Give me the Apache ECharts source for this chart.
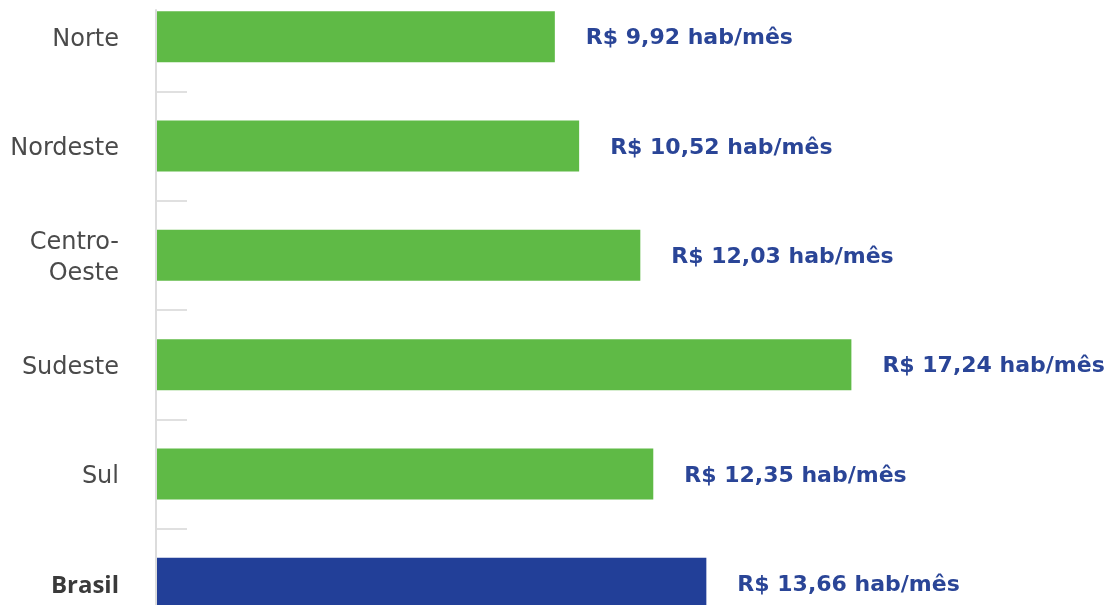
<!DOCTYPE html>
<html><head><meta charset="utf-8">
<script src="https://cdn.jsdelivr.net/npm/echarts@6/dist/echarts.min.js"></script>
<style>html,body{margin:0;padding:0;background:#fff}#c{width:1106px;height:605px}</style>
</head><body><div id="c"></div>
<script>
var categories = ['Norte', 'Nordeste', 'Centro-Oeste', 'Sudeste', 'Sul', 'Brasil'];
var values = [9.92, 10.52, 12.03, 17.24, 12.35, 13.66];
var highlight = 'Brasil';

var chart = echarts.init(document.getElementById('c'));
var data = values.map(function (v, i) {
  return { value: v, itemStyle: { color: categories[i] === highlight ? '#223f98' : '#5fba46' } };
});
chart.setOption({
  animation: false,
  grid: [
    { left: 157, right: 1, top: -18, bottom: -33, outerBoundsMode: 'none', containLabel: false },
    { left: 156, width: 1, top: 10, bottom: 0, outerBoundsMode: 'none' }
  ],
  xAxis: [
    { type: 'value', gridIndex: 0, min: 0.1, max: 23.5, show: false },
    { type: 'value', gridIndex: 1, show: false }
  ],
  yAxis: [
    {
      type: 'category', gridIndex: 0, data: categories, inverse: true,
      axisLine: { show: false },
      axisTick: { show: true, inside: true, length: 30, lineStyle: { color: '#e0e0e0', width: 2 } },
      axisLabel: {
        margin: 38,
        padding: [6, 0, 0, 0],
        formatter: function (v) {
          if (v === highlight) return '{b|' + v + '}';
          return '{n|' + v.replace('-', '-\n') + '}';
        },
        rich: {
          n: { fontFamily: 'DejaVu Sans', fontSize: 24, color: '#4a4a4a', lineHeight: 31, align: 'right' },
          b: { fontFamily: 'Open Sans', fontSize: 24, fontWeight: 'bold', color: '#3a3a3a', align: 'right' }
        }
      }
    },
    {
      type: 'value', gridIndex: 1,
      axisLine: { show: true, lineStyle: { color: '#dcdcdc', width: 2 } },
      axisTick: { show: false }, axisLabel: { show: false }, splitLine: { show: false }
    }
  ],
  series: [{
    type: 'bar', xAxisIndex: 0, yAxisIndex: 0, data: data, barWidth: 51,
    label: {
      show: true, position: 'right', distance: 31, offset: [0, 2],
      fontFamily: 'DejaVu Sans', fontSize: 22, fontWeight: 'bold', color: '#2a4597',
      formatter: function (p) { return 'R$ ' + p.value.toFixed(2).replace('.', ',') + ' hab/mês'; }
    }
  }]
});
</script></body></html>
